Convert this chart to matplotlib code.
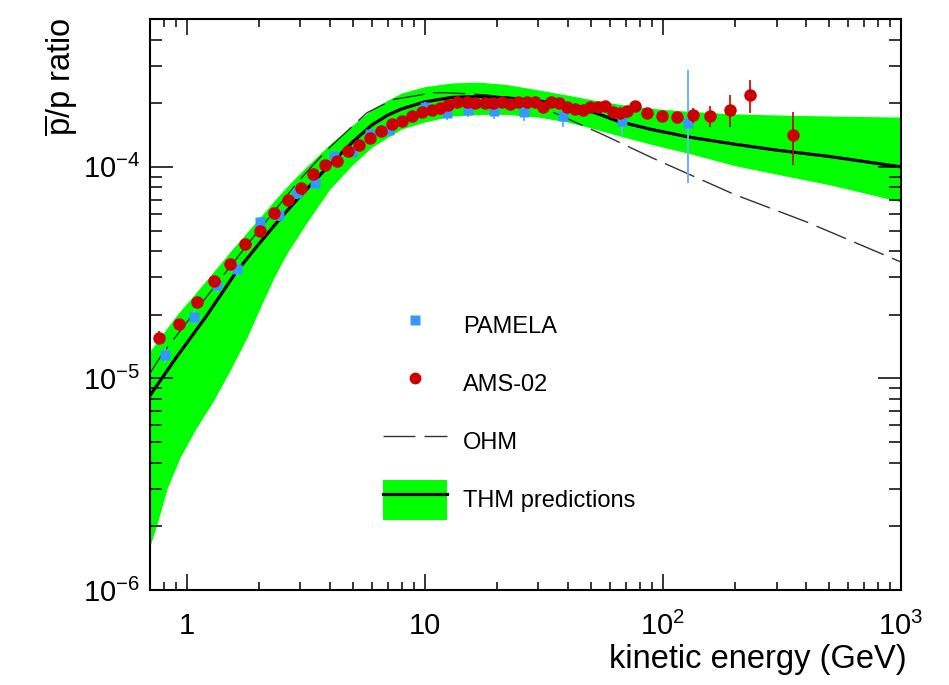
import matplotlib
matplotlib.use("Agg")
import matplotlib.pyplot as plt
from matplotlib.lines import Line2D
from matplotlib.patches import Patch
from matplotlib.legend_handler import HandlerTuple
from matplotlib.ticker import LogLocator, NullFormatter, FixedLocator, FixedFormatter
import numpy as np

plt.rcParams['font.family'] = ['Liberation Sans', 'DejaVu Sans']
plt.rcParams['mathtext.default'] = 'regular'

# THM prediction (kinetic energy in GeV, pbar/p ratio)
thm_e = [0.7, 0.9, 1.2, 1.6, 2.0, 2.5, 3.0, 4.0, 5.0, 6.0, 7.0, 8.0, 10, 13, 17,
         22, 30, 40, 50, 65, 90, 130, 200, 300, 500, 700, 1000]
thm_mid = [8.3e-6, 1.25e-5, 1.95e-5, 3.15e-5, 4.3e-5, 5.8e-5, 7.3e-5, 1.03e-4,
           1.32e-4, 1.58e-4, 1.76e-4, 1.88e-4, 2.03e-4, 2.13e-4, 2.15e-4,
           2.12e-4, 2.05e-4, 1.95e-4, 1.83e-4, 1.64e-4, 1.50e-4, 1.38e-4,
           1.28e-4, 1.2e-4, 1.12e-4, 1.06e-4, 1.0e-4]
# upper edge of the band
thm_hi = [1.33e-5, 1.95e-5, 2.85e-5, 4.2e-5, 5.6e-5, 7.5e-5, 9.3e-5, 1.27e-4,
          1.57e-4, 1.85e-4, 2.05e-4, 2.22e-4, 2.38e-4, 2.48e-4, 2.5e-4,
          2.44e-4, 2.3e-4, 2.17e-4, 2.07e-4, 1.97e-4, 1.88e-4, 1.82e-4,
          1.77e-4, 1.75e-4, 1.73e-4, 1.72e-4, 1.71e-4]
# lower edge of the band (own energy grid)
thm_lo_e = [0.7, 0.755, 0.83, 0.94, 1.1, 1.3, 1.53, 1.8, 2.05, 2.34, 2.65, 3.2,
            4.0, 5.0, 6.0, 7.0, 8.0, 10, 13, 17, 22, 30, 40, 50, 65, 90, 130,
            200, 300, 500, 700, 1000]
thm_lo = [1.58e-6, 2.06e-6, 3.0e-6, 4.2e-6, 5.8e-6, 7.8e-6, 1.09e-5, 1.56e-5,
          2.17e-5, 3.0e-5, 3.9e-5, 5.4e-5, 7.8e-5, 1.02e-4, 1.23e-4, 1.37e-4,
          1.5e-4, 1.62e-4, 1.73e-4, 1.76e-4, 1.76e-4, 1.71e-4, 1.62e-4,
          1.52e-4, 1.40e-4, 1.27e-4, 1.15e-4, 1.01e-4, 9.2e-5, 8.2e-5,
          7.5e-5, 6.8e-5]

# OHM curve
ohm_e = [0.7, 0.79, 1.34, 2.0, 2.98, 3.87, 5.7, 7.34, 10.8, 12.4, 18.2, 27.6,
         40.6, 56, 90.6, 200, 400, 1000]
ohm_y = [1.06e-5, 1.31e-5, 2.82e-5, 5.0e-5, 8.7e-5, 1.2e-4, 1.8e-4, 2.08e-4,
         2.24e-4, 2.24e-4, 2.19e-4, 2.03e-4, 1.67e-4, 1.42e-4, 1.1e-4,
         7.4e-5, 5.5e-5, 3.55e-5]

# PAMELA
pam_e = [0.81, 1.07, 1.34, 1.62, 2.03, 2.44, 2.90, 3.45, 4.14, 4.94, 5.87, 7.06,
         10.0, 12.4, 15.1, 19.5, 26.1, 38.0, 67.3, 127]
pam_y = [1.29e-5, 1.95e-5, 2.76e-5, 3.29e-5, 5.48e-5, 5.93e-5, 7.53e-5, 8.4e-5,
         1.12e-4, 1.18e-4, 1.43e-4, 1.50e-4, 1.92e-4, 1.80e-4, 1.86e-4,
         1.84e-4, 1.82e-4, 1.74e-4, 1.65e-4, 1.62e-4]
pam_rel_lo = [0.08, 0.08, 0.07, 0.07, 0.06, 0.06, 0.06, 0.06, 0.06, 0.06, 0.06,
              0.06, 0.06, 0.07, 0.07, 0.08, 0.09, 0.11, 0.14, 0.48]
pam_rel_hi = [0.08, 0.08, 0.07, 0.07, 0.06, 0.06, 0.06, 0.06, 0.06, 0.06, 0.06,
              0.06, 0.06, 0.07, 0.07, 0.08, 0.09, 0.07, 0.15, 0.78]

# AMS-02
ams_e = [0.763, 0.926, 1.10, 1.30, 1.52, 1.75, 2.03, 2.32, 2.65, 3.01, 3.38,
         3.80, 4.27, 4.74, 5.28, 5.87, 6.53, 7.25, 8.0, 8.8, 9.7, 10.7, 11.6,
         12.5, 13.7, 15.0, 16.2, 17.9, 19.3, 21.0, 22.7, 24.6, 26.8, 29.0, 31.3,
         33.9, 36.6, 39.5, 42.7, 46.2, 49.4, 53.4, 57.0, 61.6, 65.9, 70.5, 76.2,
         85.4, 98.9, 114, 134, 158, 191, 231, 352]
ams_y = [1.56e-5, 1.80e-5, 2.29e-5, 2.88e-5, 3.47e-5, 4.31e-5, 4.98e-5, 6.05e-5,
         6.98e-5, 7.95e-5, 9.27e-5, 1.02e-4, 1.07e-4, 1.19e-4, 1.27e-4, 1.37e-4,
         1.48e-4, 1.60e-4, 1.65e-4, 1.74e-4, 1.82e-4, 1.86e-4, 1.89e-4, 1.97e-4,
         2.02e-4, 2.03e-4, 2.01e-4, 2.01e-4, 2.01e-4, 2.03e-4, 1.99e-4, 2.03e-4,
         2.03e-4, 2.03e-4, 1.92e-4, 2.03e-4, 2.01e-4, 1.92e-4, 1.88e-4, 1.86e-4,
         1.92e-4, 1.92e-4, 1.95e-4, 1.82e-4, 1.80e-4, 1.84e-4, 1.95e-4, 1.80e-4,
         1.74e-4, 1.72e-4, 1.76e-4, 1.74e-4, 1.86e-4, 2.19e-4, 1.42e-4]
ams_rel = [0.07, 0.06, 0.05, 0.05, 0.05, 0.05, 0.05, 0.05, 0.05, 0.05, 0.05,
           0.05, 0.05, 0.05, 0.05, 0.05, 0.05, 0.05, 0.05, 0.05, 0.05, 0.05,
           0.05, 0.05, 0.05, 0.05, 0.05, 0.05, 0.05, 0.05, 0.05, 0.05, 0.05,
           0.05, 0.05, 0.05, 0.05, 0.05, 0.05, 0.05, 0.05, 0.05, 0.05, 0.05,
           0.05, 0.05, 0.05, 0.05, 0.05, 0.05, 0.08, 0.11, 0.17, 0.18, 0.28]

x_ticks = [1, 10, 100, 1000]
x_ticklabels = ['1', '10', '$10^{2}$', '$10^{3}$']
y_ticks = [1e-6, 1e-5, 1e-4]
y_ticklabels = ['$10^{-6}$', '$10^{-5}$', '$10^{-4}$']

green = '#00ff00'
red = '#cc0000'
blue = '#3399ff'
blue_err = '#66b3ff'
ohm_col = '#333333'

fig = plt.figure(figsize=(9.49, 6.85), dpi=100)
ax = fig.add_axes([150 / 949, 1 - 590 / 685, 751 / 949, 571 / 685])

# band: upper edge left->right, lower edge right->left
band_x = np.concatenate([thm_e, thm_lo_e[::-1]])
band_y = np.concatenate([thm_hi, thm_lo[::-1]])
ax.fill(band_x, band_y, color=green, lw=0, zorder=1)
ax.plot(ohm_e, ohm_y, color=ohm_col, lw=1.0, dashes=(23, 6.5), zorder=2)
ax.plot(thm_e, thm_mid, color='black', lw=2.3, zorder=3)

pam_y_arr = np.array(pam_y)
pam_err = [pam_y_arr * np.array(pam_rel_lo), pam_y_arr * np.array(pam_rel_hi)]
ax.errorbar(pam_e, pam_y, yerr=pam_err, fmt='s', ms=7, color=blue, mec='none',
            ecolor=blue_err, elinewidth=1.4, capsize=0, zorder=4)

ams_y_arr = np.array(ams_y)
ax.errorbar(ams_e, ams_y, yerr=ams_y_arr * np.array(ams_rel), fmt='o', ms=9,
            color=red, mec='none', ecolor=red, elinewidth=1.2, capsize=0, zorder=5)

ax.set_xscale('log')
ax.set_yscale('log')
ax.set_xlim(0.7, 1000)
ax.set_ylim(1e-6, 5e-4)

ax.xaxis.set_major_locator(FixedLocator(x_ticks))
ax.xaxis.set_major_formatter(FixedFormatter(x_ticklabels))
ax.yaxis.set_major_locator(FixedLocator(y_ticks))
ax.yaxis.set_major_formatter(FixedFormatter(y_ticklabels))
for axis in (ax.xaxis, ax.yaxis):
    axis.set_minor_locator(LogLocator(base=10, subs=np.arange(2, 10), numticks=20))
    axis.set_minor_formatter(NullFormatter())

ax.tick_params(which='both', direction='in', top=True, right=True, width=1.1,
               color='black')
ax.tick_params(axis='x', which='major', length=11.5, pad=16, labelsize=21)
ax.tick_params(axis='x', which='minor', length=5.8)
ax.tick_params(axis='y', which='major', length=16.5, pad=7, labelsize=21)
ax.tick_params(axis='y', which='minor', length=8.6)
for s in ax.spines.values():
    s.set_linewidth(1.5)

ax.set_xlabel('kinetic energy (GeV)', fontsize=23.5, loc='right')
ax.xaxis.set_label_coords(1.008, -0.094)
ax.set_ylabel(r'$\overline{p}$/p ratio', fontsize=23.5, loc='top')
ax.yaxis.set_label_coords(-0.093, 1.003)

handles = [
    Line2D([], [], ls='none', marker='s', ms=7, color=blue, mec='none'),
    Line2D([], [], ls='none', marker='o', ms=8.5, color=red, mec='none'),
    Line2D([], [], color=ohm_col, lw=1.0, dashes=(23, 6.5)),
    (Patch(fc=green, ec='none'), Line2D([], [], color='black', lw=2.3)),
]
labels = ['PAMELA', 'AMS-02', 'OHM', 'THM predictions']
ax.legend(handles, labels, loc='upper left',
          bbox_to_anchor=(383 / 949, 1 - 306 / 685), bbox_transform=fig.transFigure,
          frameon=False, fontsize=17, handlelength=2.7, handleheight=2.23,
          handletextpad=0.68, labelspacing=0.76, borderpad=0, borderaxespad=0,
          numpoints=1, handler_map={tuple: HandlerTuple(ndivide=1, pad=0)})

fig.savefig('out.png', dpi=100)
